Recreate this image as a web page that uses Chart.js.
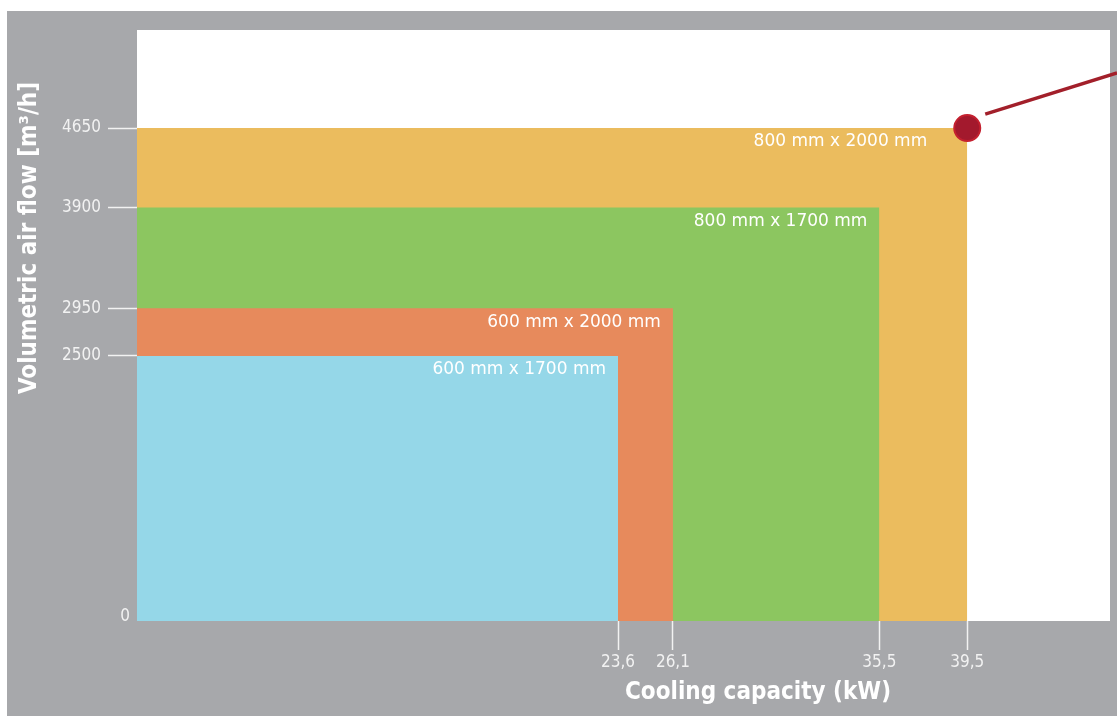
<!DOCTYPE html>
<html>
<head>
<meta charset="utf-8">
<script src="https://cdn.jsdelivr.net/npm/chart.js@4/dist/chart.umd.min.js"></script>
<style>
  html, body { margin: 0; padding: 0; background: #ffffff; }
  #wrap { position: absolute; left: 7px; top: 11px; width: 1110px; height: 705px; background: #a7a8ab; }
</style>
</head>
<body>
<div id="wrap"><canvas id="chart"></canvas></div>
<script>
// cabinet sizes, back to front
const sizeLabels = ['800 mm x 2000 mm', '800 mm x 1700 mm', '600 mm x 2000 mm', '600 mm x 1700 mm'];
const coolingKW = [39.5, 35.5, 26.1, 23.6];
const airFlow = [4650, 3900, 2950, 2500];
const boxColors = ['#ebbc5e', '#8cc660', '#e78a5c', '#95d7e8'];

const xTicks = [23.6, 26.1, 35.5, 39.5];
const yTicks = [0, 2500, 2950, 3900, 4650];
const X_MIN = 1.7, X_MAX = 46;
const Y_MIN = 0, Y_MAX = 5575;

// highlighted point (largest cabinet)
const dotX = 39.5, dotY = 4650;

const tickFont = { family: 'DejaVu Sans Condensed', size: 17 };
const titleFont = 'bold 24px "DejaVu Sans Condensed"';

const datasets = coolingKW.map((kw, i) => ({
    label: sizeLabels[i],
    data: [{ x: X_MIN, y: airFlow[i] }, { x: kw, y: airFlow[i] }, { x: kw, y: 0 }],
    backgroundColor: boxColors[i],
    borderWidth: 0,
    pointRadius: 0,
    fill: 'origin',
    order: 10 - i
}));

datasets.push({
    type: 'scatter',
    label: 'max',
    data: [{ x: dotX, y: dotY }],
    pointRadius: 13,
    pointBackgroundColor: '#a3192d',
    pointBorderColor: '#c4202f',
    pointBorderWidth: 2,
    order: 0
});

const extras = {
    id: 'extras',
    beforeDraw(chart) {
        const { ctx, chartArea: a } = chart;
        ctx.save();
        ctx.fillStyle = '#ffffff';
        ctx.fillRect(a.left, a.top, a.right - a.left, a.bottom - a.top);
        ctx.restore();
    },
    afterDatasetsDraw(chart) {
        const { ctx } = chart;
        const xs = chart.scales.x, ys = chart.scales.y;

        // labels in the boxes
        ctx.save();
        ctx.font = '17px "DejaVu Sans"';
        ctx.fillStyle = '#ffffff';
        ctx.textAlign = 'right';
        ctx.textBaseline = 'middle';
        coolingKW.forEach((kw, i) => {
            const inset = kw === dotX ? 40 : 12;
            ctx.fillText(sizeLabels[i], xs.getPixelForValue(kw) - inset, ys.getPixelForValue(airFlow[i]) + 14);
        });
        ctx.restore();
    },
    afterDraw(chart) {
        const { ctx, width } = chart;
        const xs = chart.scales.x, ys = chart.scales.y;

        // leader line from the dot
        const px = xs.getPixelForValue(dotX), py = ys.getPixelForValue(dotY);
        const sx = px + 18, sy = py - 14;
        ctx.save();
        ctx.strokeStyle = '#a21f2a';
        ctx.lineWidth = 3.5;
        ctx.beginPath();
        ctx.moveTo(sx, sy);
        ctx.lineTo(width, sy - 0.313 * (width - sx));
        ctx.stroke();

        // zero label sits next to the axis, without a tick
        ctx.font = '17px "DejaVu Sans Condensed"';
        ctx.fillStyle = '#f2f2f2';
        ctx.textAlign = 'right';
        ctx.textBaseline = 'middle';
        ctx.fillText('0', chart.chartArea.left - 7, ys.getPixelForValue(0) - 4);

        // axis titles
        ctx.font = titleFont;
        ctx.fillStyle = '#ffffff';
        ctx.textAlign = 'center';
        ctx.fillText('Cooling capacity (kW)', 751, 682);
        ctx.translate(23, 227);
        ctx.rotate(-Math.PI / 2);
        ctx.fillText('Volumetric air flow [m³/h]', 0, 0);
        ctx.restore();
    }
};

new Chart(document.getElementById('chart'), {
    type: 'line',
    data: { datasets },
    options: {
        responsive: true,
        maintainAspectRatio: false,
        animation: false,
        layout: { autoPadding: false, padding: { top: 19, right: 7, left: 0, bottom: 0 } },
        plugins: { legend: { display: false }, tooltip: { enabled: false } },
        scales: {
            x: {
                type: 'linear',
                min: X_MIN,
                max: X_MAX,
                afterBuildTicks: s => { s.ticks = xTicks.map(v => ({ value: v })); },
                afterFit: s => { s.height = 95; },
                border: { display: false },
                grid: { drawOnChartArea: false, drawTicks: true, tickLength: 29, tickColor: '#f2f2f2', tickWidth: 1.5 },
                ticks: {
                    color: '#f2f2f2',
                    font: tickFont,
                    padding: 2,
                    maxRotation: 0,
                    autoSkip: false,
                    callback: v => String(v).replace('.', ',')
                }
            },
            y: {
                type: 'linear',
                min: Y_MIN,
                max: Y_MAX,
                afterBuildTicks: s => { s.ticks = yTicks.map(v => ({ value: v })); },
                afterFit: s => { s.width = 130; },
                border: { display: false },
                grid: {
                    drawOnChartArea: false,
                    drawTicks: true,
                    tickLength: 29,
                    tickWidth: 1.5,
                    tickColor: c => (c.tick && c.tick.value === 0) ? 'rgba(0,0,0,0)' : '#f2f2f2'
                },
                ticks: {
                    color: '#f2f2f2',
                    font: tickFont,
                    padding: 7,
                    autoSkip: false,
                    callback: v => v === 0 ? '' : String(v)
                }
            }
        }
    },
    plugins: [extras]
});
</script>
</body>
</html>
